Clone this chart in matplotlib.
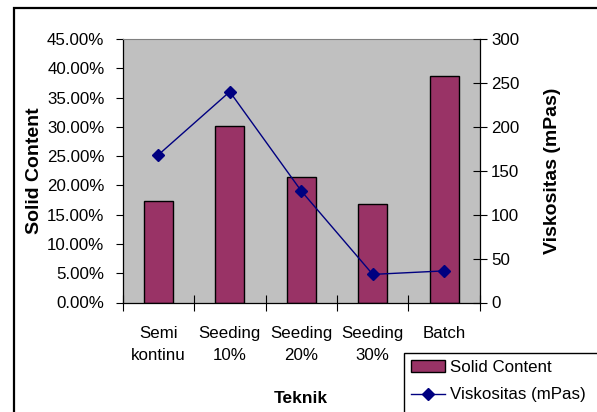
import numpy as np
import matplotlib
matplotlib.use("Agg")
import matplotlib.pyplot as plt
from matplotlib.patches import Rectangle
from matplotlib.ticker import FuncFormatter

plt.rcParams['font.family'] = ['Liberation Sans', 'DejaVu Sans']

teknik = ['Semi\nkontinu', 'Seeding\n10%', 'Seeding\n20%', 'Seeding\n30%', 'Batch']
solid_content = [17.3, 30.2, 21.5, 16.9, 38.6]   # persen
viskositas = [168, 240, 127, 32, 36]              # mPas

W, H = 597, 412
fig = plt.figure(figsize=(W / 100, H / 100), dpi=100)

# bingkai luar (atas & kiri saja yang terlihat)
fig.patches.append(Rectangle((14 / W, -0.2), 1.2, 1 - 8 / H + 0.2,
                             transform=fig.transFigure, fill=False,
                             edgecolor='black', linewidth=1.6))
# kotak legenda, terpotong di kanan & bawah
fig.patches.append(Rectangle((404 / W, -0.2), 1.2, 1 - 353 / H + 0.2,
                             transform=fig.transFigure, fill=False,
                             edgecolor='black', linewidth=1.0))

ax = fig.add_axes([122.5 / W, 1 - 302.5 / H, 357.5 / W, 263.5 / H])
ax.set_facecolor('#C0C0C0')
x = np.arange(len(teknik))
bars = ax.bar(x, solid_content, width=0.41, color='#993366',
              edgecolor='black', linewidth=1.0, label='Solid Content')
ax.set_xlim(-0.5, len(teknik) - 0.5)
ax.set_ylim(0, 45)
ax.set_yticks(np.arange(0, 46, 5))
ax.yaxis.set_major_formatter(FuncFormatter(lambda v, p: f'{v:.2f}%'))
ax.tick_params(axis='y', direction='out', length=5, width=0.8,
               labelsize=12.2, pad=8, color='black')

# tick di batas kategori, label di tengah
ax.set_xticks(np.arange(-0.5, len(teknik)), minor=False)
ax.set_xticklabels([])
ax.tick_params(axis='x', which='major', direction='inout', length=11, width=0.8)
ax.set_xticks(x, minor=True)
ax.set_xticklabels(teknik, minor=True, fontsize=12.2, linespacing=1.6)
ax.tick_params(axis='x', which='minor', length=0, pad=17)

ax.spines['top'].set_color('#808080')
ax.spines['top'].set_linewidth(0.8)
ax.spines['right'].set_visible(False)
ax.spines['left'].set_linewidth(0.9)
ax.spines['bottom'].set_linewidth(0.9)

ax.set_ylabel('Solid Content', fontsize=14, fontweight='bold', labelpad=3)
ax.set_xlabel('Teknik', fontsize=12.5, fontweight='bold', labelpad=20)

ax2 = ax.twinx()
line, = ax2.plot(x, viskositas, color='#000080', linewidth=1.0,
                 marker='D', markersize=6, label='Viskositas (mPas)')
ax2.set_ylim(0, 300)
ax2.set_yticks(np.arange(0, 301, 50))
ax2.tick_params(axis='y', direction='inout', length=10, width=0.8,
                labelsize=12.2, pad=3)
ax2.spines['right'].set_linewidth(0.9)
for s in ['top', 'left', 'bottom']:
    ax2.spines[s].set_visible(False)
ax2.set_ylabel('Viskositas (mPas)', fontsize=14, fontweight='bold', labelpad=18)

leg = fig.legend([bars, line], ['Solid Content', 'Viskositas (mPas)'],
                 loc='upper left', bbox_to_anchor=(404 / W, 1 - 353 / H),
                 fontsize=12.2, frameon=False, borderpad=0.4,
                 handlelength=2.0, handletextpad=0.3, labelspacing=0.75,
                 borderaxespad=0)

fig.savefig('out.png', dpi=100)
